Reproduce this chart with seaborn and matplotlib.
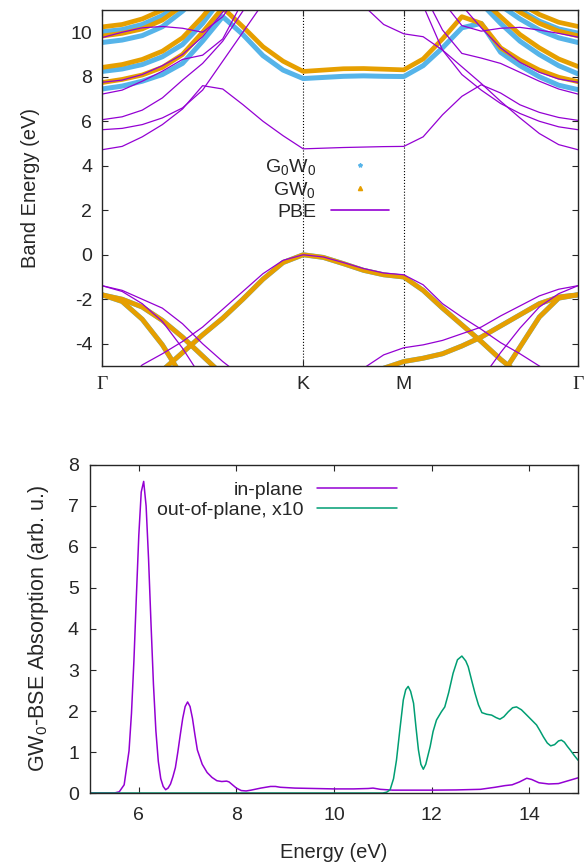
import numpy as np
import pandas as pd
import matplotlib
matplotlib.use("Agg")
import matplotlib.pyplot as plt
import seaborn as sns
from matplotlib.lines import Line2D

# ---------------- band structure data (eV) ----------------
# k path: Gamma -> K (11 pts), K -> M (5 pts), M -> Gamma (9 pts)
k_gk = np.linspace(0, 4 / 3, 11)
k_km = np.linspace(4 / 3, 2, 6)[1:]
k_mg = np.linspace(2, 2 + 2 / np.sqrt(3), 10)[1:]
k_path = np.concatenate([k_gk, k_km, k_mg])
k_ticks = [0, 4 / 3, 2, 2 + 2 / np.sqrt(3)]
k_labels = ["\u0393", "K", "M", "\u0393"]

# PBE conduction bands
pbe_c1 = [4.72, 4.87, 5.30, 5.85, 6.55, 7.60, 7.45, 6.75, 6.00, 5.35, 4.76,
          4.79, 4.82, 4.84, 4.86, 4.87,
          5.30, 6.29, 7.12, 7.64, 7.27, 6.74, 6.40, 6.17, 6.04]
pbe_c2 = [5.62, 5.68, 5.85, 6.15, 6.60, 7.40, 8.70, 10.0, 11.3, 12.4, 13.0,
          12.9, 12.2, 11.2, 10.35, 9.93,
          9.80, 9.20, 8.45, 7.70, 6.90, 6.15, 5.45, 4.95, 4.72]
pbe_c3 = [6.07, 6.20, 6.50, 7.05, 7.85, 8.60, 9.60, 10.95, 12.3, 13.2, 13.8,
          14.0, 14.0, 13.6, 13.0, 12.4,
          11.2, 9.20, 8.10, 7.40, 6.80, 6.35, 6.00, 5.75, 5.62]
pbe_c4 = [7.22, 7.40, 7.80, 8.25, 8.78, 8.97, 9.70, 11.4, 12.5, 13.0, 13.2,
          13.4, 13.6, 13.6, 13.4, 13.2,
          11.8, 10.1, 9.05, 8.84, 8.60, 8.20, 7.80, 7.45, 7.22]
pbe_c5 = [7.75, 7.85, 8.10, 8.50, 9.00, 9.80, 10.9, 12.0, 12.8, 13.4, 13.8,
          14.0, 14.2, 14.2, 14.0, 13.6,
          12.8, 12.0, 11.2, 10.2, 9.30, 8.65, 8.20, 7.90, 7.75]
pbe_c6 = [9.76, 10.0, 10.2, 10.26, 10.18, 10.0, 10.7, 12.0, 13.0, 13.6, 14.0,
          14.2, 14.4, 14.4, 14.2, 14.0,
          12.5, 11.4, 10.3, 10.05, 10.18, 10.22, 10.10, 9.95, 9.78]
# PBE valence bands
pbe_v1 = [-6.5, -5.9, -4.95, -4.45, -3.9, -3.25, -2.45, -1.65, -0.85, -0.25, 0.0,
          -0.10, -0.35, -0.62, -0.82, -0.90,
          -1.35, -2.20, -2.80, -3.35, -3.95, -4.45, -5.00, -5.50, -6.00]
pbe_v2 = [-1.39, -1.60, -2.00, -2.40, -3.10, -4.00, -4.80, -5.50, -6.00, -6.30, -6.40,
          -6.20, -5.70, -5.10, -4.50, -4.18,
          -4.05, -3.85, -3.55, -3.25, -2.75, -2.30, -1.85, -1.55, -1.39]
pbe_v3 = [-1.39, -1.65, -2.20, -3.00, -4.20, -5.60, -6.80, -7.5, -8.0, -8.0, -8.0,
          -8.0, -8.0, -8.0, -8.0, -8.0,
          -8.0, -7.5, -6.5, -5.60, -4.40, -3.30, -2.35, -1.75, -1.39]

# G0W0 conduction bands
g0w0_c1 = [7.45, 7.58, 7.80, 8.10, 8.60, 9.60, 10.7, 9.90, 8.95, 8.30, 7.92,
           7.97, 8.02, 8.04, 8.02, 8.01,
           8.50, 9.30, 10.2, 10.4, 9.10, 8.50, 8.00, 7.62, 7.42]
g0w0_c2 = [8.24, 8.35, 8.55, 8.90, 9.45, 10.4, 11.6, 12.5, 13.0, 13.0, 13.0,
           13.0, 13.0, 13.0, 13.0, 13.0,
           13.0, 13.0, 12.2, 11.3, 10.4, 9.60, 9.00, 8.50, 8.13]
g0w0_c3 = [9.54, 9.65, 9.85, 10.25, 10.95, 11.8, 12.6, 13.0, 13.0, 13.0, 13.0,
           13.0, 13.0, 13.0, 13.0, 13.0,
           13.0, 13.0, 13.0, 12.2, 11.2, 10.6, 10.1, 9.75, 9.54]
g0w0_c4 = [10.02, 10.12, 10.35, 10.75, 11.4, 12.2, 13.0, 13.0, 13.0, 13.0, 13.0,
           13.0, 13.0, 13.0, 13.0, 13.0,
           13.0, 13.0, 13.0, 13.0, 12.0, 11.0, 10.5, 10.15, 9.96]
# GW0 conduction bands
gw0_c1 = [7.74, 7.88, 8.08, 8.42, 9.00, 10.0, 11.1, 10.25, 9.35, 8.70, 8.24,
          8.30, 8.36, 8.37, 8.34, 8.31,
          8.80, 9.70, 10.7, 10.4, 9.30, 8.75, 8.30, 7.98, 7.78]
gw0_c2 = [8.42, 8.55, 8.78, 9.15, 9.75, 10.7, 11.8, 12.7, 13.0, 13.0, 13.0,
          13.0, 13.0, 13.0, 13.0, 13.0,
          13.0, 13.0, 12.4, 11.5, 10.7, 9.90, 9.30, 8.80, 8.46]
gw0_c3 = [9.83, 9.95, 10.15, 10.55, 11.2, 12.0, 12.8, 13.0, 13.0, 13.0, 13.0,
          13.0, 13.0, 13.0, 13.0, 13.0,
          13.0, 13.0, 13.0, 12.5, 11.5, 10.9, 10.4, 10.05, 9.84]
gw0_c4 = [10.24, 10.35, 10.60, 11.0, 11.6, 12.4, 13.0, 13.0, 13.0, 13.0, 13.0,
          13.0, 13.0, 13.0, 13.0, 13.0,
          13.0, 13.0, 13.0, 13.0, 12.3, 11.3, 10.8, 10.45, 10.26]
# GW0 valence bands (G0W0 valence bands coincide within reading accuracy)
gw0_v1 = [-7.0, -6.3, -5.6, -5.2, -4.4, -3.6, -2.85, -2.0, -1.1, -0.35, 0.0,
          -0.12, -0.40, -0.70, -0.90, -1.00,
          -1.60, -2.40, -3.15, -3.90, -4.70, -5.40, -6.00, -6.5, -7.0]
gw0_v2 = [-1.80, -2.00, -2.35, -2.95, -3.70, -4.55, -5.40, -6.00, -6.40, -6.60, -6.70,
          -6.60, -6.20, -5.60, -5.10, -4.80,
          -4.65, -4.45, -4.10, -3.70, -3.20, -2.70, -2.20, -1.90, -1.80]
gw0_v3 = [-1.80, -2.10, -2.90, -4.05, -5.50, -6.80, -7.5, -8.0, -8.0, -8.0, -8.0,
          -8.0, -8.0, -8.0, -8.0, -8.0,
          -8.0, -8.0, -7.5, -6.8, -5.50, -4.15, -2.80, -1.95, -1.80]

pbe_bands = [pbe_c1, pbe_c2, pbe_c3, pbe_c4, pbe_c5, pbe_c6, pbe_v1, pbe_v2, pbe_v3]
g0w0_bands = [g0w0_c1, g0w0_c2, g0w0_c3, g0w0_c4, gw0_v1, gw0_v2, gw0_v3]
gw0_bands = [gw0_c1, gw0_c2, gw0_c3, gw0_c4, gw0_v1, gw0_v2, gw0_v3]

# ---------------- absorption spectra ----------------
inplane_E = [5.0, 5.4, 5.5, 5.6, 5.7, 5.8, 5.85, 5.9, 5.95, 6.0, 6.05, 6.1, 6.15,
             6.2, 6.25, 6.3, 6.35, 6.4, 6.45, 6.5, 6.55, 6.6, 6.65, 6.7, 6.75,
             6.8, 6.85, 6.9, 6.95, 7.0, 7.05, 7.1, 7.15, 7.2, 7.3, 7.4, 7.5,
             7.6, 7.7, 7.8, 7.85, 7.9, 8.0, 8.1, 8.2, 8.3, 8.5, 8.7, 8.8, 8.9,
             9.2, 9.6, 10.0, 10.4, 10.7, 10.8, 10.95, 11.2, 11.6, 12.0, 12.5,
             13.0, 13.3, 13.5, 13.65, 13.8, 13.95, 14.05, 14.2, 14.4, 14.6,
             14.8, 15.0]
inplane_abs = [0.0, 0.0, 0.0, 0.03, 0.2, 1.03, 1.94, 3.22, 4.78, 6.28, 7.34, 7.6,
               7.0, 5.71, 4.14, 2.66, 1.52, 0.77, 0.35, 0.16, 0.08, 0.12, 0.22,
               0.4, 0.62, 1.0, 1.42, 1.82, 2.11, 2.22, 2.11, 1.82, 1.42, 1.05,
               0.7, 0.5, 0.38, 0.3, 0.28, 0.29, 0.27, 0.22, 0.12, 0.06, 0.05,
               0.07, 0.12, 0.16, 0.16, 0.14, 0.12, 0.11, 0.1, 0.1, 0.11, 0.12,
               0.09, 0.07, 0.07, 0.07, 0.075, 0.09, 0.14, 0.18, 0.2, 0.27, 0.36,
               0.33, 0.25, 0.22, 0.23, 0.3, 0.37]
outplane_E = [5.0, 11.0, 11.08, 11.15, 11.22, 11.28, 11.35, 11.42, 11.47, 11.52,
              11.57, 11.63, 11.68, 11.73, 11.78, 11.83, 11.88, 11.97, 12.03,
              12.1, 12.2, 12.27, 12.35, 12.44, 12.53, 12.62, 12.7, 12.75, 12.82,
              12.89, 12.96, 13.03, 13.13, 13.23, 13.32, 13.4, 13.48, 13.57,
              13.66, 13.74, 13.84, 13.95, 14.05, 14.15, 14.22, 14.29, 14.37,
              14.44, 14.52, 14.6, 14.66, 14.72, 14.78, 14.84, 14.92, 15.0]
outplane_abs_x10 = [0.0, 0.0, 0.02, 0.08, 0.35, 0.8, 1.55, 2.27, 2.52, 2.6, 2.48,
                    2.19, 1.6, 1.05, 0.7, 0.58, 0.7, 1.13, 1.5, 1.78, 1.98, 2.1,
                    2.45, 2.92, 3.25, 3.34, 3.22, 3.08, 2.75, 2.43, 2.15, 1.96,
                    1.92, 1.9, 1.84, 1.8, 1.86, 1.98, 2.08, 2.1, 2.03, 1.9, 1.78,
                    1.66, 1.52, 1.37, 1.22, 1.15, 1.18, 1.27, 1.29, 1.24, 1.14,
                    1.05, 0.92, 0.8]

PURPLE = "#9400D3"
BLUE = "#56B4E9"
ORANGE = "#E69F00"
GREEN = "#009E73"

sns.set_style("ticks", {"xtick.direction": "in", "ytick.direction": "in"})
plt.rcParams["font.family"] = ["Liberation Sans", "DejaVu Sans"]
plt.rcParams["font.size"] = 14
plt.rcParams["axes.unicode_minus"] = False
plt.rcParams["mathtext.fontset"] = "custom"
plt.rcParams["mathtext.rm"] = "Liberation Sans"
plt.rcParams["mathtext.it"] = "Liberation Sans:italic"

fig = plt.figure(figsize=(5.87, 8.63), dpi=100)
ax1 = fig.add_axes([0.1738, 0.5759, 0.8109, 0.4125])
ax2 = fig.add_axes([0.1533, 0.0811, 0.8314, 0.3801])

# ---------------- top panel: bands ----------------
for band in g0w0_bands:
    sns.lineplot(x=k_path, y=band, ax=ax1, color=BLUE, linewidth=3.6,
                 sort=False, estimator=None, legend=False)
for band in gw0_bands:
    sns.lineplot(x=k_path, y=band, ax=ax1, color=ORANGE, linewidth=3.4,
                 sort=False, estimator=None, legend=False)
for band in pbe_bands:
    sns.lineplot(x=k_path, y=band, ax=ax1, color=PURPLE, linewidth=0.9,
                 sort=False, estimator=None, legend=False)

for kk in k_ticks[1:3]:
    ax1.axvline(kk, color="black", linestyle=":", linewidth=0.8, zorder=0)

ax1.set_xlim(k_ticks[0], k_ticks[-1])
ax1.set_ylim(-5, 11)
ax1.set_xticks(k_ticks)
ax1.set_xticklabels(k_labels)
for lab in ax1.get_xticklabels():
    if lab.get_text() == "\u0393":
        lab.set_family(["Liberation Serif", "DejaVu Serif"])
ax1.set_yticks(np.arange(-4, 11, 2))
ax1.set_ylabel("Band Energy (eV)", fontsize=14.5, labelpad=22)
ax1.tick_params(direction="in", right=True, top=True, length=4.5, labelsize=14)
ax1.tick_params(axis="x", pad=7)
ax1.tick_params(axis="y", pad=7)

handles = [
    Line2D([], [], color=BLUE, marker="*", linestyle="none", markersize=3),
    Line2D([], [], color=ORANGE, marker="^", linestyle="none", markersize=3),
    Line2D([], [], color=PURPLE, linewidth=1.2),
]
leg1 = ax1.legend(handles, ["G$_0$W$_0$", "GW$_0$", "PBE"], loc="upper right",
                  bbox_to_anchor=(0.603, 0.588), frameon=False, markerfirst=False,
                  handlelength=3.0, handletextpad=0.75, labelspacing=0.18,
                  borderpad=0, borderaxespad=0, fontsize=14)
for col in leg1._legend_handle_box.get_children():
    col.align = "right"

# ---------------- bottom panel: absorption ----------------
sns.lineplot(x=inplane_E, y=inplane_abs, ax=ax2, color=PURPLE, linewidth=1.1,
             sort=False, estimator=None, label="in-plane")
sns.lineplot(x=outplane_E, y=outplane_abs_x10, ax=ax2, color=GREEN, linewidth=1.1,
             sort=False, estimator=None, label="out-of-plane, x10")
ax2.set_xlim(5, 15)
ax2.set_ylim(0, 8)
ax2.set_xticks([6, 8, 10, 12, 14])
ax2.set_yticks(range(0, 9))
ax2.set_xlabel("Energy (eV)", fontsize=14.5, labelpad=14)
ax2.set_ylabel("GW$_0$-BSE Absorption (arb. u.)", fontsize=15.5, labelpad=12)
ax2.tick_params(direction="in", right=True, top=True, length=4.5, labelsize=14)
ax2.tick_params(axis="x", pad=10)
ax2.tick_params(axis="y", pad=8)
leg2 = ax2.legend(loc="upper right", bbox_to_anchor=(0.629, 0.95), frameon=False,
                  markerfirst=False, handlelength=4.1, handletextpad=0.7,
                  labelspacing=0.1, borderpad=0, borderaxespad=0, fontsize=14)
for col in leg2._legend_handle_box.get_children():
    col.align = "right"

for ax in (ax1, ax2):
    for sp in ax.spines.values():
        sp.set_visible(True)
        sp.set_linewidth(1.0)

fig.savefig("out.png", dpi=100)
